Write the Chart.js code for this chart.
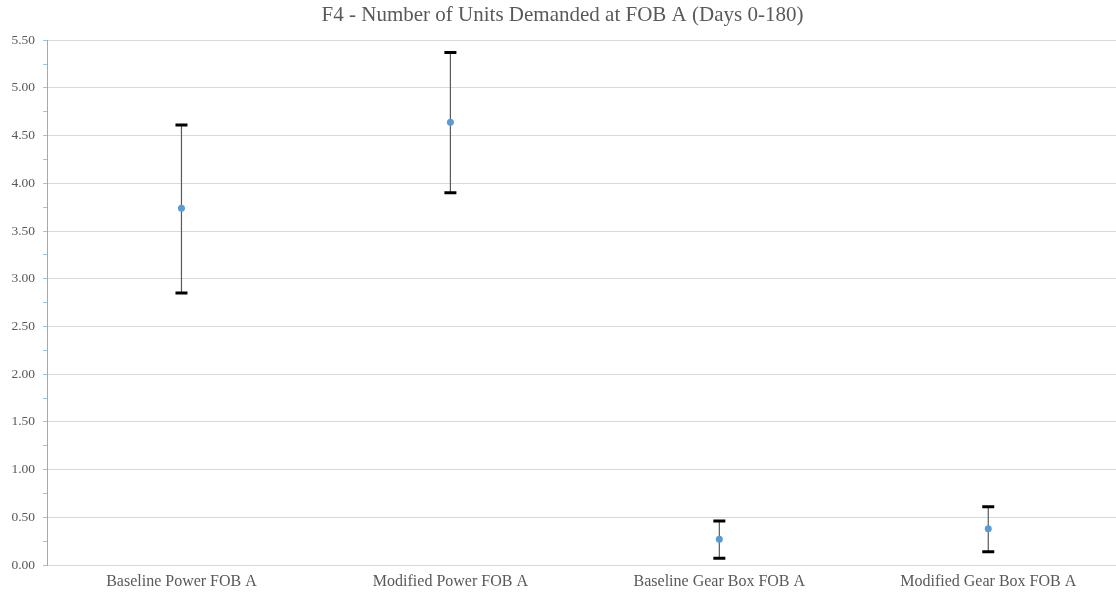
<!DOCTYPE html>
<html>
<head>
<meta charset="utf-8">
<script src="https://cdn.jsdelivr.net/npm/chart.js@4.4.1/dist/chart.umd.min.js"></script>
<style>
html,body{margin:0;padding:0;background:#fff;}
#wrap{width:1116px;height:596px;}
</style>
</head>
<body>
<div id="wrap"><canvas id="c" width="1116" height="596"></canvas></div>
<script>
const categories = ["Baseline Power FOB A", "Modified Power FOB A", "Baseline Gear Box FOB A", "Modified Gear Box FOB A"];
const means = [3.74, 4.64, 0.27, 0.38];
const upper = [4.61, 5.37, 0.46, 0.61];
const lower = [2.85, 3.90, 0.07, 0.14];
const yTickValues = [0, 0.5, 1, 1.5, 2, 2.5, 3, 3.5, 4, 4.5, 5, 5.5];
const yMinorValues = [0.25, 0.75, 1.25, 1.75, 2.25, 2.75, 3.25, 3.75, 4.25, 4.75, 5.25];

const whisker = [];
categories.forEach((c, i) => {
  whisker.push({x: i, y: lower[i]}, {x: i, y: upper[i]}, {x: i + 0.5, y: null});
});
const caps = [];
categories.forEach((c, i) => {
  caps.push({x: i, y: upper[i]}, {x: i, y: lower[i]});
});
const meanPts = means.map((v, i) => ({x: i, y: v}));

const serif = "'Liberation Serif', 'Times New Roman', serif";
const isMinor = v => Math.abs(v * 2 - Math.round(v * 2)) > 1e-6;

new Chart(document.getElementById('c'), {
  type: 'scatter',
  data: {
    datasets: [
      {
        type: 'line', data: whisker, borderColor: '#5a5a5a', borderWidth: 1.2,
        pointRadius: 0, spanGaps: false, fill: false, order: 3
      },
      {
        data: caps, pointStyle: 'line', pointRadius: 6, pointBorderWidth: 3,
        borderColor: '#000', backgroundColor: '#000', order: 2
      },
      {
        data: meanPts, pointStyle: 'circle', pointRadius: 3.5, pointBorderWidth: 0,
        backgroundColor: '#5b9bd5', borderColor: '#5b9bd5', order: 1
      }
    ]
  },
  options: {
    responsive: false,
    animation: false,
    events: [],
    layout: {autoPadding: false, padding: {left: 9, right: 0, top: 0, bottom: 0}},
    plugins: {
      legend: {display: false},
      tooltip: {enabled: false},
      title: {
        display: true,
        text: 'F4 - Number of Units Demanded at FOB A (Days 0-180)',
        color: '#595959',
        font: {family: serif, size: 21, weight: 'normal'},
        padding: {top: 3, bottom: 12}
      }
    },
    scales: {
      x: {
        type: 'linear',
        min: -0.5, max: 3.475,
        afterBuildTicks: s => { s.ticks = categories.map((c, i) => ({value: i})); },
        afterFit: s => { s.height = 31; s.paddingLeft = 0; s.paddingRight = 0; },
        grid: {display: false, drawTicks: false},
        border: {display: true, color: '#d9d9d9', width: 1},
        ticks: {
          callback: v => categories[v] ?? '',
          color: '#595959', font: {family: serif, size: 16}, padding: 7,
          maxRotation: 0, autoSkip: false
        }
      },
      y: {
        min: 0, max: 5.5,
        afterBuildTicks: s => {
          const all = yTickValues.concat(yMinorValues).sort((a, b) => a - b);
          s.ticks = all.map(v => ({value: v}));
        },
        afterFit: s => { s.width = 38; },
        grid: {
          color: ctx => (ctx.tick && isMinor(ctx.tick.value)) ? 'rgba(0,0,0,0)' : '#d9d9d9',
          tickColor: '#9dc3e6',
          tickLength: 4,
          lineWidth: 1
        },
        border: {display: true, color: '#7fb1dd', width: 1},
        ticks: {
          callback: v => isMinor(v) ? '' : v.toFixed(2),
          color: '#595959', font: {family: serif, size: 13.5}, padding: 8,
          autoSkip: false
        }
      }
    }
  }
});
</script>
</body>
</html>
